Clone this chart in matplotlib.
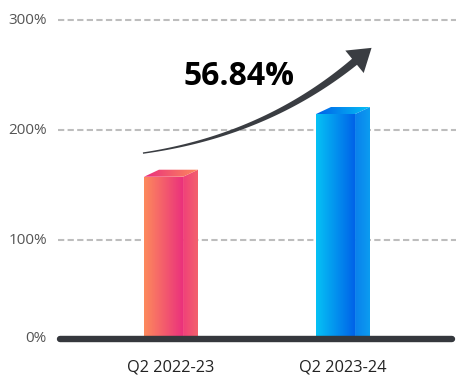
import matplotlib
matplotlib.use("Agg")
import matplotlib.pyplot as plt
import numpy as np
from matplotlib.colors import LinearSegmentedColormap
from matplotlib.patches import Polygon
from matplotlib.transforms import IdentityTransform

plt.rcParams['font.family'] = ['Open Sans', 'DejaVu Sans']

# data
categories = ["Q2 2022-23", "Q2 2023-24"]
values = [157.5, 214.5]
growth_label = "56.84%"
tick_values = [100, 200, 300]
tick_labels = ["100%", "200%", "300%"]

baseline = 10
front_colors = [("#fd8a5c", "#ea2f7d"), ("#06c2f5", "#0060e8")]
side_colors = [("#f0407a", "#f3626c"), ("#0a80ec", "#0c9cf0")]
top_colors = [("#ea2f7d", "#fd8a5c"), ("#0060e8", "#06c2f5")]

fig = plt.figure(figsize=(4.61, 3.87), dpi=100)
ax = fig.add_axes([58 / 461, (387 - 339) / 387, (456 - 58) / 461, (339 - 10) / 387])
ylim = (baseline, (350 - 10) / 1.1)
ax.set_xlim(-0.657, 1.657)
ax.set_ylim(*ylim)
ax.axis("off")

# dashed gridlines
for v, lab in zip(tick_values, tick_labels):
    ax.axhline(v, color="#bdbdbd", lw=1.5, ls=(0, (3, 1.6)), zorder=0)
    ax.text(-0.722, v, lab, ha="right", va="center", fontsize=11,
            color="#555555", clip_on=False)
ax.text(-0.722, baseline, "0%", ha="right", va="center", fontsize=11,
        color="#555555", clip_on=False)

# baseline
ax.plot([-0.645, 1.635], [baseline, baseline], color="#35383d", lw=4.6,
        solid_capstyle="round", clip_on=False, zorder=5)


def grad_face(verts, c1, c2):
    cmap = LinearSegmentedColormap.from_list("g", [c1, c2])
    verts = np.array(verts)
    x0, x1 = verts[:, 0].min(), verts[:, 0].max()
    y0, y1 = verts[:, 1].min(), verts[:, 1].max()
    g = np.linspace(0, 1, 256).reshape(1, -1)
    im = ax.imshow(g, cmap=cmap, extent=[x0, x1, y0, y1], aspect="auto",
                   interpolation="bilinear", zorder=3)
    poly = Polygon(verts, closed=True, facecolor="none", edgecolor="none")
    ax.add_patch(poly)
    im.set_clip_path(poly)


fw_l, fw_r, sd = 0.157, 0.070, 0.157
dy = 6.4
for i, v in enumerate(values):
    c = i
    xl, xr, xs = c - fw_l, c + fw_r, c + sd
    grad_face([(xl, baseline), (xr, baseline), (xr, v), (xl, v)], *front_colors[i])
    grad_face([(xr, baseline), (xs, baseline), (xs, v + dy), (xr, v)], *side_colors[i])
    grad_face([(xl, v), (xr, v), (xs, v + dy), (xl + 0.087, v + dy)], *top_colors[i])
    ax.text(c, -15.5, categories[i], ha="center", va="center", fontsize=11.8,
            color="#222222", clip_on=False)

ax.set_xlim(-0.657, 1.657)
ax.set_ylim(*ylim)

# growth arrow (tapered curve), built in display space from data anchors
fig.canvas.draw()
T = ax.transData
p0 = T.transform((-0.163, 179))
p2 = T.transform((1.067, 262))
pc = T.transform((0.547, 195))
t = np.linspace(0, 1, 80)[:, None]
pts = (1 - t) ** 2 * p0 + 2 * (1 - t) * t * pc + t ** 2 * p2
d = np.gradient(pts, axis=0)
d /= np.linalg.norm(d, axis=1)[:, None]
nrm = np.column_stack([-d[:, 1], d[:, 0]])
w = (0.7 + 3.2 * t[:, 0] ** 1.2)[:, None]
left = pts + nrm * w
right = pts - nrm * w
dir_end = d[-1]
n_end = nrm[-1]
tip = p2 + dir_end * 22
hl = p2 + n_end * 14.5
hr = p2 - n_end * 14.5
shaft = np.vstack([left, hl, tip, hr, right[::-1]])
ax.add_patch(Polygon(shaft, closed=True, transform=IdentityTransform(),
                     facecolor="#3a3d42", edgecolor="none", zorder=6))

ax.text(0.395, 249, growth_label, ha="center", va="center", fontsize=23,
        fontweight="bold", color="#000000")

fig.savefig("out.png", dpi=100)
